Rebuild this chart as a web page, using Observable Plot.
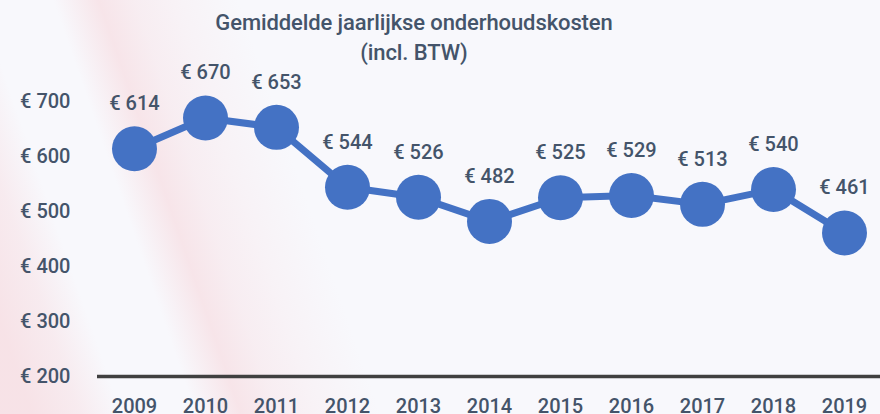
<!DOCTYPE html>
<html>
<head>
<meta charset="utf-8">
<script src="https://cdn.jsdelivr.net/npm/d3@7"></script>
<script src="https://cdn.jsdelivr.net/npm/@observablehq/plot@0.6"></script>
<style>
  html, body { margin: 0; padding: 0; }
  body { width: 880px; height: 414px; overflow: hidden; }
  #wrap {
    position: relative; width: 880px; height: 414px;
    background:
      linear-gradient(71deg,
        rgba(246,205,210,0.5) 30px, rgba(246,210,215,0.35) 75px, rgba(255,255,255,0) 115px,
        rgba(255,255,255,0) 185px, rgba(246,205,210,0.45) 228px, rgba(246,212,217,0.3) 262px,
        rgba(248,222,226,0.22) 300px, rgba(255,255,255,0) 360px),
      #f8f8fc;
  }
  #title {
    position: absolute; left: 0; top: 8px; width: 828px; text-align: center;
    font-family: Roboto, sans-serif; font-weight: 500; font-size: 22px; line-height: 30px;
    color: #44546a; letter-spacing: -0.1px;
  }
  svg { position: absolute; left: 0; top: 0; background: transparent; }
</style>
</head>
<body>
<div id="wrap">
  <div id="title">Gemiddelde jaarlijkse onderhoudskosten<br>(incl. BTW)</div>
</div>
<script>
const years = [2009, 2010, 2011, 2012, 2013, 2014, 2015, 2016, 2017, 2018, 2019];
const costs = [614, 670, 653, 544, 526, 482, 525, 529, 513, 540, 461];
const yTicks = [200, 300, 400, 500, 600, 700];

const data = years.map((y, i) => ({year: y, cost: costs[i]}));
const euro = d => "€ " + d;

const chart = Plot.plot({
  width: 880,
  height: 414,
  marginLeft: 97,
  marginRight: 0,
  marginTop: 101,
  marginBottom: 38,
  style: {fontFamily: "Roboto, sans-serif", fontSize: "20px", fontWeight: 500, color: "#44546a", background: "transparent"},
  x: {type: "point", domain: years, padding: 0.5, axis: null},
  y: {domain: [200, 700], axis: null},
  marks: [
    Plot.axisY({ticks: yTicks, tickFormat: euro, tickSize: 0, tickPadding: 27, label: null, fill: "#44546a", fontSize: 20}),
    Plot.axisX({tickFormat: d => String(d), tickSize: 0, tickPadding: 22, label: null, fill: "#44546a", fontSize: 20}),
    Plot.ruleY([200], {stroke: "#404040", strokeWidth: 3.5}),
    Plot.line(data, {x: "year", y: "cost", stroke: "#4472c4", strokeWidth: 7}),
    Plot.dot(data, {x: "year", y: "cost", r: 22.5, fill: "#4472c4", stroke: "none"}),
    Plot.text(data, {x: "year", y: "cost", text: d => euro(d.cost), dy: -45, fill: "#44546a", fontSize: 20, fontWeight: 500})
  ]
});
document.getElementById("wrap").appendChild(chart);
</script>
</body>
</html>
